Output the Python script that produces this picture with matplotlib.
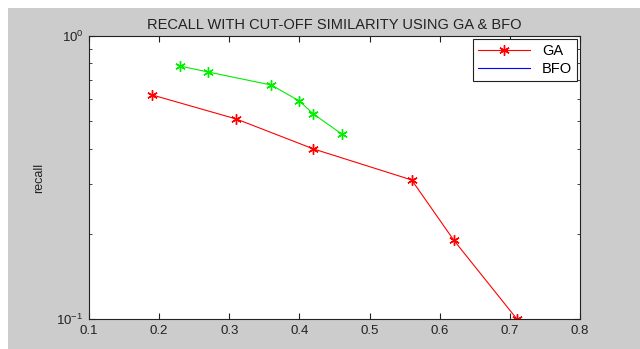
import matplotlib.pyplot as plt
from matplotlib.lines import Line2D
from matplotlib.patches import Rectangle

plt.rcParams['font.family'] = ['Liberation Sans', 'DejaVu Sans']

# cut-off similarity vs recall
ga_x = [0.19, 0.31, 0.42, 0.56, 0.62, 0.71]
ga_recall = [0.619, 0.509, 0.399, 0.31, 0.19, 0.1]

bfo_x = [0.23, 0.27, 0.36, 0.40, 0.42, 0.46]
bfo_recall = [0.783, 0.746, 0.671, 0.589, 0.530, 0.451]

x_ticks = [0.1, 0.2, 0.3, 0.4, 0.5, 0.6, 0.7, 0.8]

fig = plt.figure(figsize=(6.4, 3.49), dpi=100, facecolor='white')
# grey MATLAB-style figure background, thin white margin on top/left
fig.patches.append(Rectangle((8 / 640, 0), 1, 1 - 8 / 349, transform=fig.transFigure,
                             facecolor='#cccccc', edgecolor='none', zorder=-10))

ax = fig.add_axes([89 / 640, 1 - 319 / 349, (580 - 89) / 640, (319 - 36) / 349])
ax.set_facecolor('white')

star = (6, 2, 0)  # asterisk like MATLAB '*'
ga_line, = ax.plot(ga_x, ga_recall, color='red', marker=star, markersize=7.5,
                   markeredgewidth=1.0, linewidth=0.8)
ax.plot(bfo_x, bfo_recall, color='#00ee00', marker=star, markersize=7.5,
        markeredgewidth=1.0, linewidth=0.8)

ax.set_yscale('log')
ax.set_xlim(0.1, 0.8)
ax.set_ylim(0.1, 1)
ax.set_xticks(x_ticks)
ax.set_xticklabels([str(t) for t in x_ticks])

ax.tick_params(which='both', direction='in', top=True, right=True, labelsize=9.5,
               colors='#222222', pad=4)
ax.tick_params(which='major', length=4)
ax.tick_params(which='minor', length=2.5)
ax.tick_params(axis='y', which='minor', labelleft=False)
for s in ax.spines.values():
    s.set_color('#222222')
    s.set_linewidth(0.8)

ax.set_title('RECALL WITH CUT-OFF SIMILARITY USING GA & BFO', fontsize=10.5, color='#222222', pad=5)
ax.set_ylabel('recall', fontsize=9, color='#222222', labelpad=2)
ax.yaxis.set_label_coords(-0.09, 0.5)

handles = [ga_line, Line2D([], [], color='blue', linewidth=0.8)]
leg = ax.legend(handles, ['GA', 'BFO'], loc='upper right', fontsize=10.5, markerscale=1,
                numpoints=1, fancybox=False, framealpha=1, edgecolor='#222222',
                borderaxespad=0.2, handlelength=3.6, handletextpad=0.8,
                borderpad=0.35, labelspacing=0.25)
leg.get_frame().set_linewidth(0.8)

plt.savefig('out.png', dpi=100, facecolor=fig.get_facecolor())
